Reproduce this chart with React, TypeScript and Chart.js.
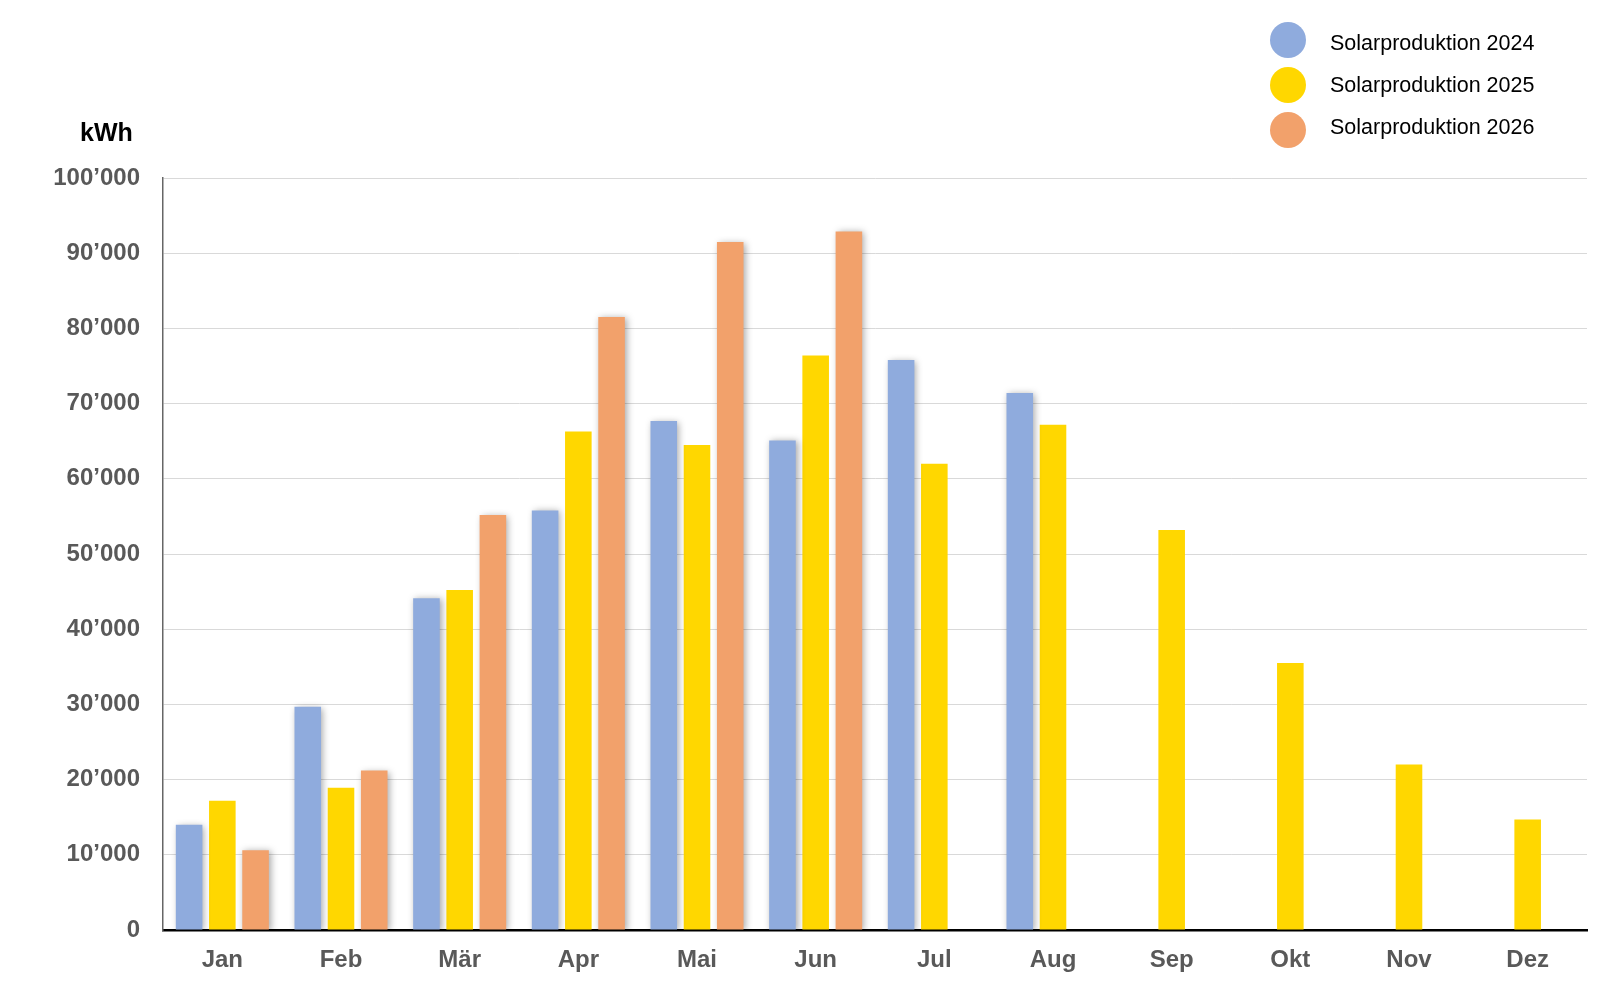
import React, { useEffect, useRef } from 'react';
import Chart from 'chart.js/auto';

const months = ['Jan', 'Feb', 'Mär', 'Apr', 'Mai', 'Jun', 'Jul', 'Aug', 'Sep', 'Okt', 'Nov', 'Dez'];
const seriesLabels = ['Solarproduktion 2024', 'Solarproduktion 2025', 'Solarproduktion 2026'];
const seriesColors = ['#8FABDD', '#FFD700', '#F2A16B'];

const prod2024: (number | null)[] = [14000, 29700, 44100, 55800, 67700, 65100, 75800, 71400, null, null, null, null];
const prod2025: (number | null)[] = [17200, 18900, 45200, 66300, 64500, 76400, 62000, 67200, 53200, 35500, 22000, 14700];
const prod2026: (number | null)[] = [10600, 21200, 55200, 81500, 91500, 92900, null, null, null, null, null, null];

const yTicks = [0, 10000, 20000, 30000, 40000, 50000, 60000, 70000, 80000, 90000, 100000];

const FONT = '"Liberation Sans", Arial, sans-serif';

const fmt = (v: number) => {
    if (v === 0) return '0';
    const s = String(v);
    return s.slice(0, s.length - 3) + '\u2019' + s.slice(-3);
};

// soft drop shadow on the 2024 and 2026 bars
const shadowPlugin = {
    id: 'barShadow',
    beforeDatasetDraw(chart: any, args: any) {
        const ctx = chart.ctx;
        ctx.save();
        if (args.index !== 1) {
            ctx.shadowColor = 'rgba(0,0,0,0.35)';
            ctx.shadowBlur = 7;
            ctx.shadowOffsetX = 2;
            ctx.shadowOffsetY = 1;
        }
    },
    afterDatasetDraw(chart: any) {
        chart.ctx.restore();
    },
};

const legendY = [40, 85, 130];

const extrasPlugin = {
    id: 'extras',
    afterDraw(chart: any) {
        const ctx = chart.ctx;
        ctx.save();
        ctx.fillStyle = '#000';
        ctx.font = `bold 25px ${FONT}`;
        ctx.textAlign = 'left';
        ctx.textBaseline = 'alphabetic';
        ctx.fillText('kWh', 80, 141);
        chart.data.datasets.forEach((ds: any, i: number) => {
            const cy = legendY[i];
            ctx.beginPath();
            ctx.fillStyle = ds.backgroundColor;
            ctx.arc(1288, cy, 18, 0, Math.PI * 2);
            ctx.fill();
            ctx.fillStyle = '#000';
            ctx.font = `21.5px ${FONT}`;
            ctx.textBaseline = 'middle';
            ctx.fillText(ds.label, 1330, 44 + i * 42);
        });
        ctx.restore();
    },
};

const App: React.FC = () => {
    const chartRef = useRef<HTMLCanvasElement>(null);

    useEffect(() => {
        document.body.style.margin = '0';
        document.body.style.overflow = 'hidden';
        if (!chartRef.current) return;
        const chart = new Chart(chartRef.current, {
            type: 'bar',
            data: {
                labels: months,
                datasets: [prod2024, prod2025, prod2026].map((d, i) => ({
                    label: seriesLabels[i],
                    data: d,
                    backgroundColor: seriesColors[i],
                    borderWidth: 0,
                    categoryPercentage: 0.84,
                    barPercentage: 0.8,
                })),
            },
            options: {
                animation: false,
                responsive: false,
                maintainAspectRatio: false,
                devicePixelRatio: 1,
                layout: { padding: { top: 178, right: 13, left: 0, bottom: 0 } },
                plugins: {
                    legend: { display: false },
                    tooltip: { enabled: false },
                },
                scales: {
                    x: {
                        grid: { display: false, drawTicks: false },
                        border: { display: true, color: '#000', width: 2.5 },
                        ticks: {
                            color: '#595959',
                            font: { family: FONT, size: 24, weight: 'bold' },
                            padding: 16,
                        },
                        afterFit(scale: any) {
                            scale.height = 56;
                        },
                    },
                    y: {
                        min: 0,
                        max: 100000,
                        afterBuildTicks(scale: any) {
                            scale.ticks = yTicks.map((v) => ({ value: v }));
                        },
                        grid: { color: '#d9d9d9', lineWidth: 1, drawTicks: false },
                        border: { display: true, color: '#666', width: 1.5 },
                        ticks: {
                            color: '#595959',
                            font: { family: FONT, size: 24, weight: 'bold' },
                            padding: 23,
                            callback: (v: any) => fmt(Number(v)),
                        },
                        afterFit(scale: any) {
                            scale.width = 163;
                        },
                    },
                },
            },
            plugins: [shadowPlugin, extrasPlugin],
        } as any);
        return () => {
            chart.destroy();
        };
    }, []);

    return (
        <div style={{ position: 'fixed', left: 0, top: 0, width: 1600, height: 986, overflow: 'hidden', background: '#fff' }}>
            <canvas ref={chartRef} width={1600} height={986} style={{ display: 'block', width: 1600, height: 986 }} />
        </div>
    );
};

export default App;
